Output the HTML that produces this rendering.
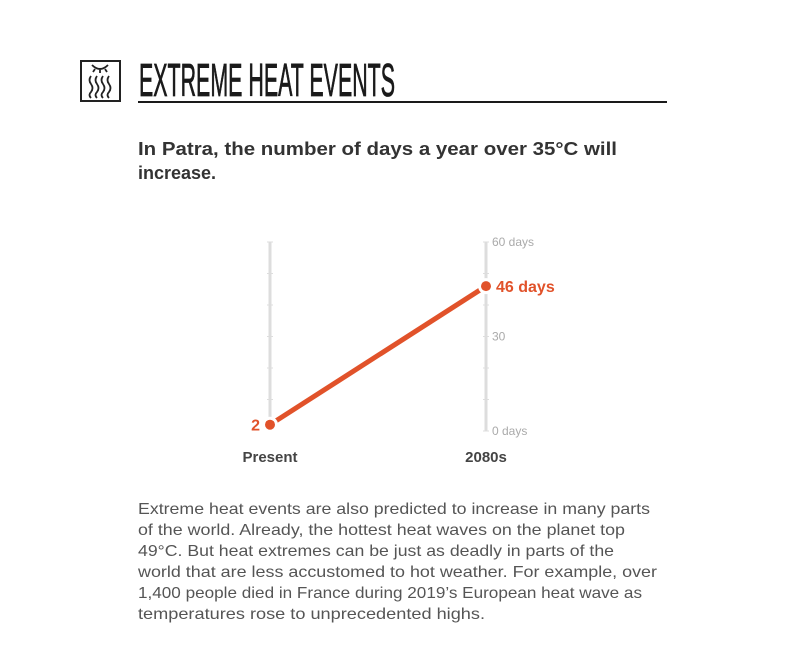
<!DOCTYPE html>
<html><head><meta charset="utf-8"><style>
html,body{margin:0;padding:0;background:#fff;}
svg{display:block;font-family:"Liberation Sans",sans-serif;}
</style></head><body>
<svg width="808" height="651" viewBox="0 0 808 651">
  <g fill="none" stroke="#222" stroke-width="1.8">
    <rect x="81" y="61" width="39" height="40" stroke-width="2"/>
    <path d="M92 65 Q100 73 108 65"/>
    <path d="M95 69 l-2 3 M100 70 v3 M105 69 l2 3"/>
    <path d="M91 76 q-3 4 0 8 q3 4 0 8 q-3 3 0 6"/>
    <path d="M97 76 q-3 4 0 8 q3 4 0 8 q-3 3 0 6"/>
    <path d="M103 76 q-3 4 0 8 q3 4 0 8 q-3 3 0 6"/>
    <path d="M109 76 q-3 4 0 8 q3 4 0 8 q-3 3 0 6"/>
  </g>
  <text x="139" y="96" font-size="46" fill="#1a1a1a" stroke="#1a1a1a" stroke-width="0.8" textLength="256" lengthAdjust="spacingAndGlyphs">EXTREME HEAT EVENTS</text>
  <rect x="138" y="101" width="529" height="2" fill="#1a1a1a"/>
  <text font-size="18" font-weight="bold" fill="#333">
    <tspan x="138" y="155" textLength="479" lengthAdjust="spacingAndGlyphs">In Patra, the number of days a year over 35°C will</tspan>
    <tspan x="138" y="179">increase.</tspan>
  </text>
  <g id="chart"></g>
  <text font-size="16" fill="#555">
    <tspan x="138" y="514" textLength="512" lengthAdjust="spacingAndGlyphs">Extreme heat events are also predicted to increase in many parts</tspan>
    <tspan x="138" y="535" textLength="487" lengthAdjust="spacingAndGlyphs">of the world. Already, the hottest heat waves on the planet top</tspan>
    <tspan x="138" y="556" textLength="476" lengthAdjust="spacingAndGlyphs">49°C. But heat extremes can be just as deadly in parts of the</tspan>
    <tspan x="138" y="577" textLength="519" lengthAdjust="spacingAndGlyphs">world that are less accustomed to hot weather. For example, over</tspan>
    <tspan x="138" y="598" textLength="504" lengthAdjust="spacingAndGlyphs">1,400 people died in France during 2019’s European heat wave as</tspan>
    <tspan x="138" y="619" textLength="347" lengthAdjust="spacingAndGlyphs">temperatures rose to unprecedented highs.</tspan>
  </text>
</svg>
<script>
const categories = ["Present", "2080s"];
const values = [2, 46];
const valueLabels = ["2", "46 days"];
const tickValues = [0, 10, 20, 30, 40, 50, 60];
const tickLabels = {0: "0 days", 30: "30", 60: "60 days"};

const NS = "http://www.w3.org/2000/svg";
const g = document.getElementById("chart");
const xPos = i => 270 + i * 216;
const yPos = v => 431 - v * (189 / 60);
function mk(tag, attrs) {
  const e = document.createElementNS(NS, tag);
  for (const k in attrs) e.setAttribute(k, attrs[k]);
  g.appendChild(e);
  return e;
}
categories.forEach((c, i) => {
  const x = xPos(i);
  const ax = mk("line", {x1: x, x2: x, y1: yPos(60), y2: yPos(0), stroke: "#ddd", "stroke-width": 3});
  
  
  tickValues.forEach(t => {
    const tk = mk("line", {x1: x - 3, x2: x + 3, y1: yPos(t), y2: yPos(t), stroke: "#ddd", "stroke-width": 1});
    
    
    if (i === 1 && tickLabels[t] !== undefined) {
      const tl = mk("text", {x: x + 6, y: yPos(t) + 4, "font-size": 12, fill: "#aaa"});
      tl.textContent = tickLabels[t];
      
      
    }
  });
  const cl = mk("text", {x: x, y: 462, "font-size": 15, "font-weight": "bold", fill: "#444", "text-anchor": "middle"});
  cl.textContent = c;
  
  
});
const ln = mk("line", {x1: xPos(0), y1: yPos(values[0]), x2: xPos(1), y2: yPos(values[1]), stroke: "#e1522a", "stroke-width": 5});


values.forEach((v, i) => {
  const halo = mk("circle", {cx: xPos(i), cy: yPos(v), r: 8, fill: "#fff"});
  
  
  const p = mk("circle", {cx: xPos(i), cy: yPos(v), r: 5, fill: "#e1522a"});
  
  
  const lbl = mk("text", {x: i === 0 ? xPos(i) - 10 : xPos(i) + 10, y: yPos(v) + 6, "font-size": 16, "font-weight": "bold", fill: "#e1522a", "text-anchor": i === 0 ? "end" : "start"});
  lbl.textContent = valueLabels[i];
  
  
});
</script>
</body></html>
